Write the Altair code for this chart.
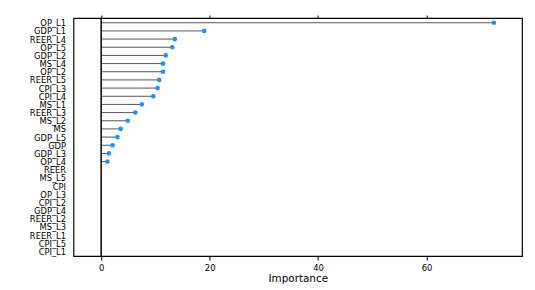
import altair as alt
import pandas as pd

variables = ["OP_L1", "GDP_L1", "REER_L4", "OP_L5", "GDP_L2", "MS_L4", "OP_L2",
             "REER_L5", "CPI_L3", "CPI_L4", "MS_L1", "REER_L3", "MS_L2", "MS",
             "GDP_L5", "GDP", "GDP_L3", "OP_L4", "REER", "MS_L5", "CPI", "OP_L3",
             "CPI_L2", "GDP_L4", "REER_L2", "MS_L3", "REER_L1", "CPI_L5", "CPI_L1"]
importance = [72.4, 19.0, 13.6, 13.1, 11.9, 11.4, 11.4,
              10.7, 10.4, 9.6, 7.5, 6.3, 4.9, 3.6,
              3.0, 2.1, 1.4, 1.15, 0, 0, 0, 0,
              0, 0, 0, 0, 0, 0, 0]
x_ticks = [0, 20, 40, 60]

df = pd.DataFrame({"var": variables, "imp": importance})
df["zero"] = 0.0

FONT = "DejaVu Sans"
xscale = alt.Scale(domain=[-5.1, 77.6], nice=False, zero=False)
yscale = alt.Scale(type="point", padding=0.58)

yenc = alt.Y("var:N", sort=variables, scale=yscale,
             axis=alt.Axis(title=None, ticks=False, domain=False, grid=False,
                           labelPadding=8, labelFont=FONT, labelFontSize=8.4,
                           labelOverlap=False, labelColor="black",
                           labelBaseline="middle"))

base = alt.Chart(df)

segs = base.mark_rule(color="#555555", strokeWidth=1).encode(
    x=alt.X("zero:Q", scale=xscale,
            axis=alt.Axis(title="Importance", values=x_ticks, grid=False, domain=False,
                          tickColor="black", tickSize=4, labelFont=FONT, labelFontSize=8.5,
                          labelColor="black", titleFont=FONT, titleFontSize=10.5,
                          titleFontWeight="normal", titleColor="black", titlePadding=2,
                          labelPadding=3)),
    x2="imp:Q",
    y=yenc,
)

pts = base.transform_filter("datum.imp > 0").mark_point(
    filled=True, color="#1E90FF", size=22, opacity=1
).encode(
    x=alt.X("imp:Q", scale=xscale, axis=None),
    y=yenc,
)

zero_line = alt.Chart(pd.DataFrame({"z": [0]})).mark_rule(
    color="black", strokeWidth=1.5
).encode(
    x=alt.X("z:Q", scale=xscale,
            axis=alt.Axis(orient="top", labels=False, title=None, values=x_ticks,
                          grid=False, domain=False, tickColor="black", tickSize=3))
)

chart = alt.layer(segs, pts, zero_line).resolve_axis(x="independent").properties(
    width=452, height=240,
    autosize=alt.AutoSizeParams(type="none"),
    padding={"left": 66, "top": 9, "right": 5, "bottom": 32},
).configure_view(stroke="black", strokeWidth=1.2)

chart.save("out.html", embed_options={"renderer": "svg", "actions": False})
